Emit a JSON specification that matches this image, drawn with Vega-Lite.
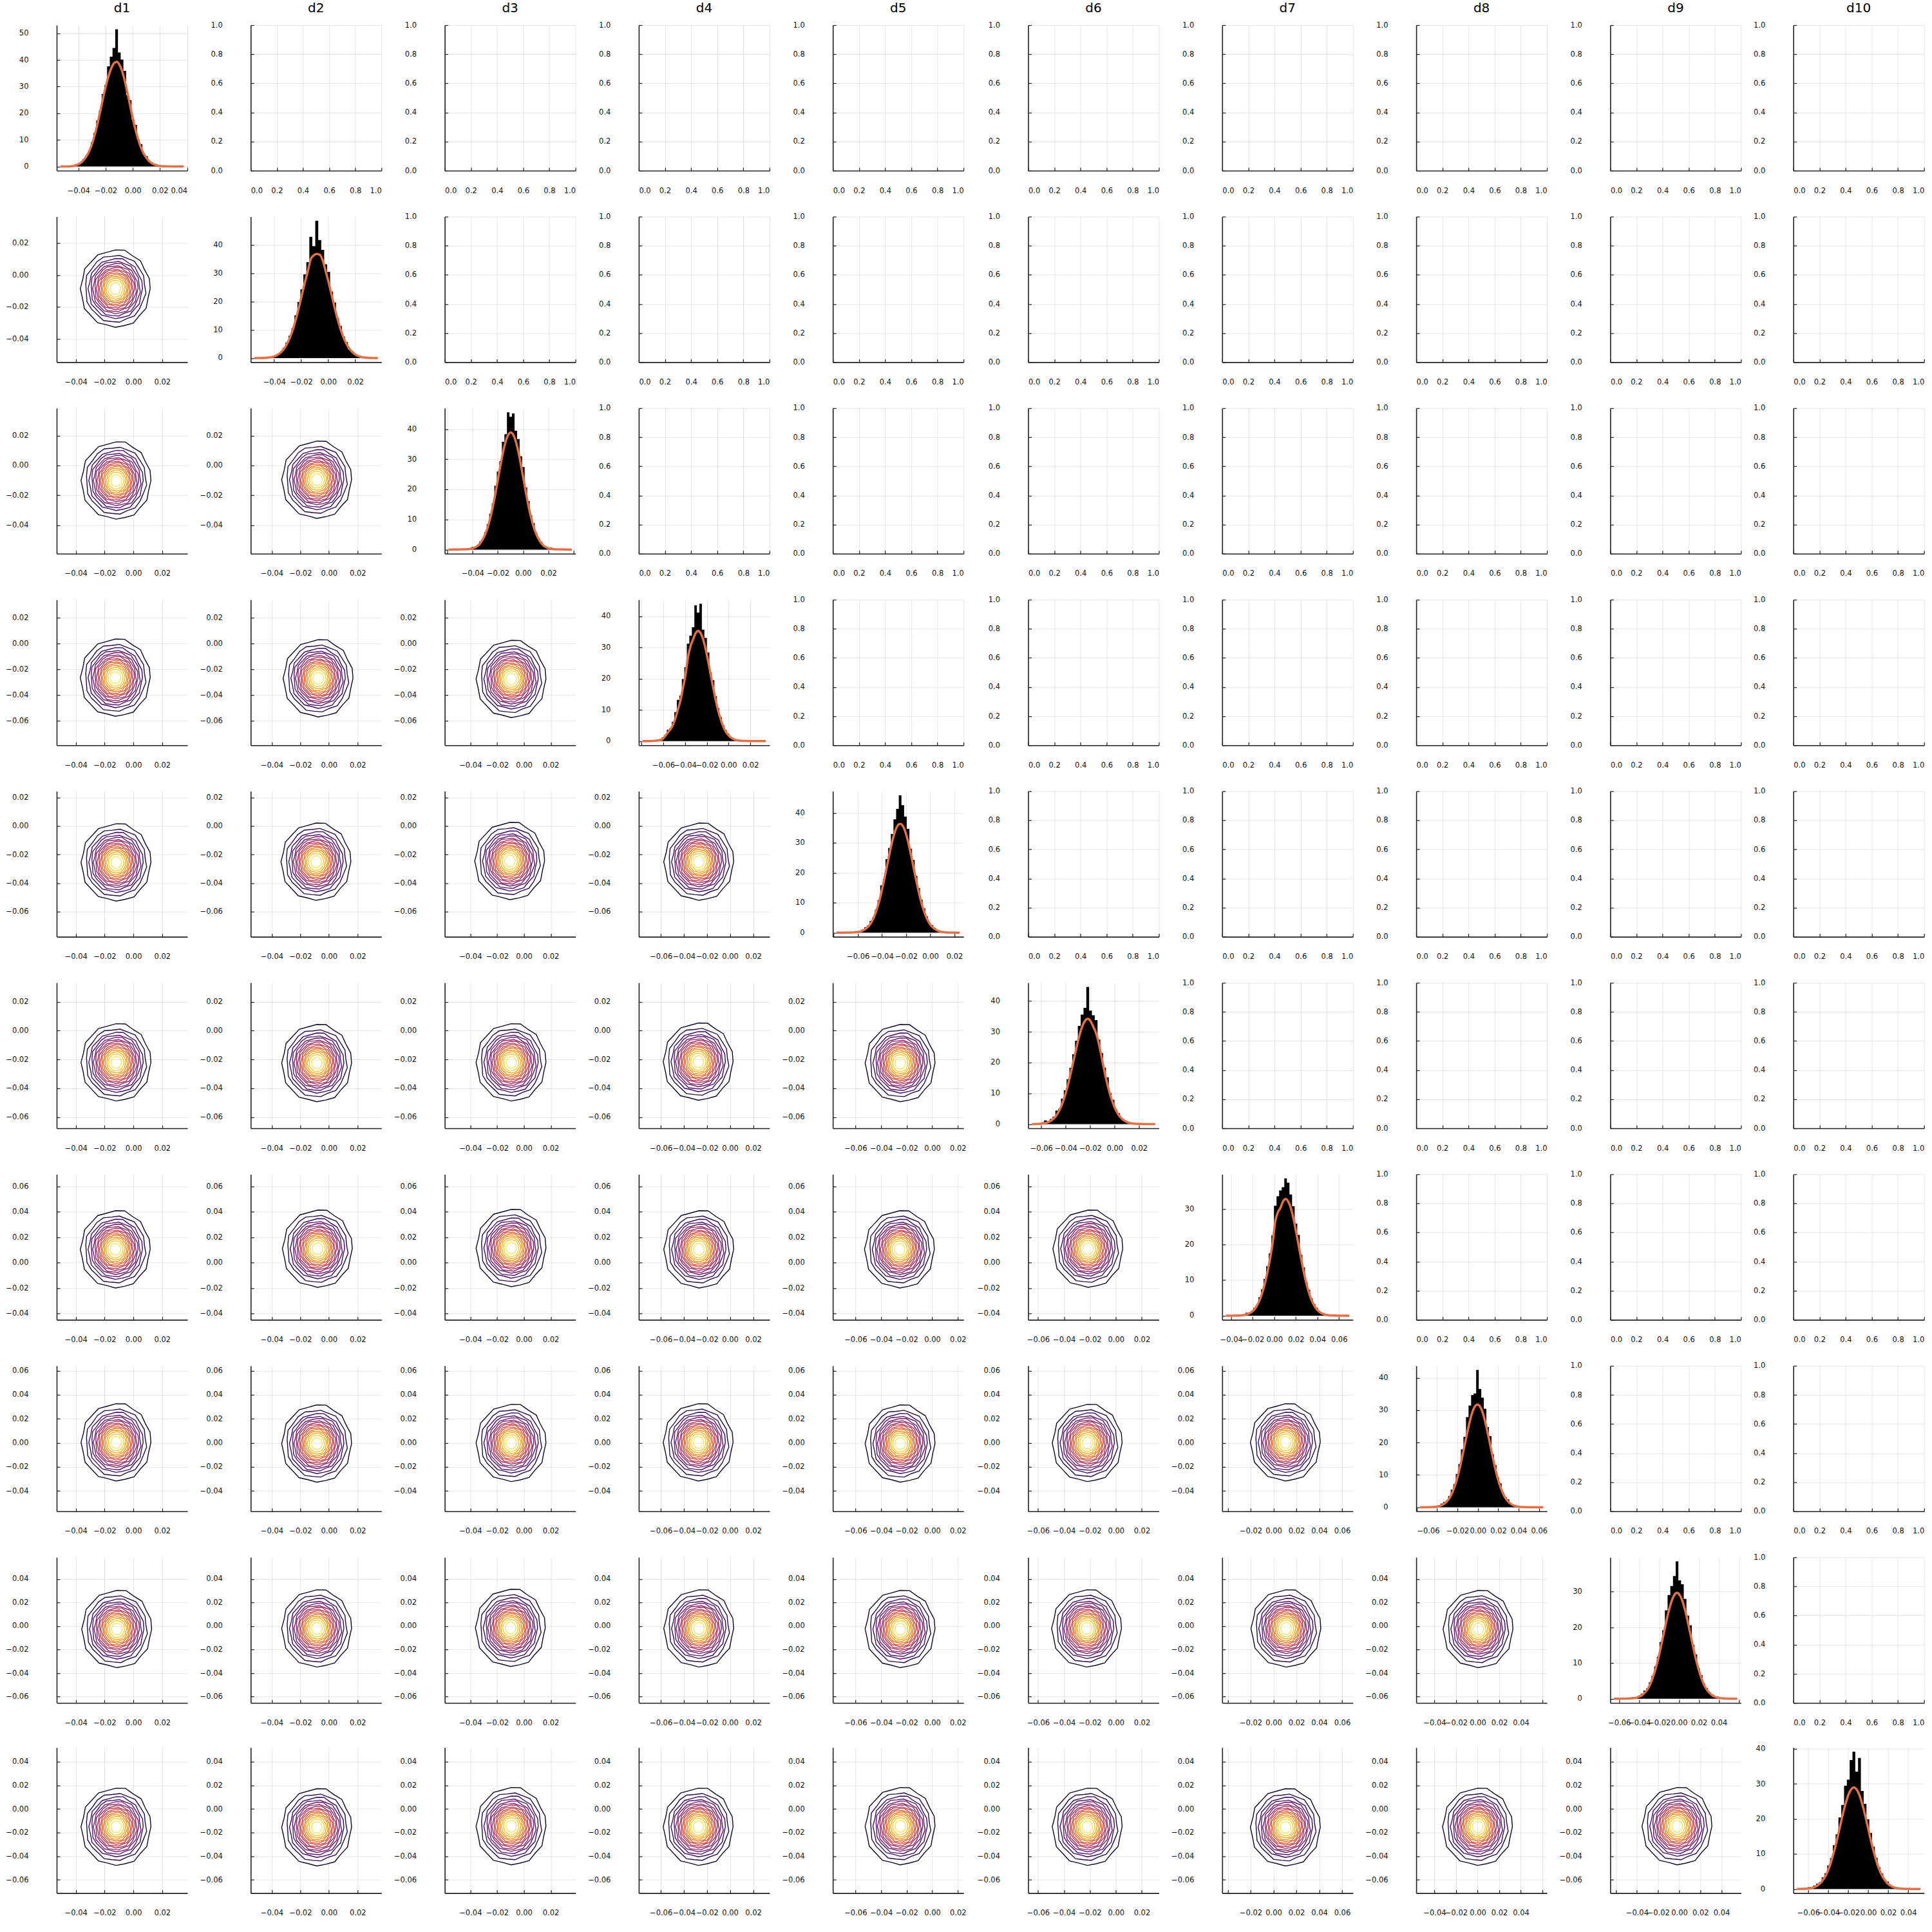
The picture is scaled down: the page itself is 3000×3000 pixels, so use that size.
{
"$schema":"https://vega.github.io/schema/vega-lite/v6.json",
"background":"white",
"padding":{"left":8,"top":3,"right":2,"bottom":2},
"data":{"values":[
{"r":1,"c":1,"x0":-0.056,"x1":0.0402,"y0":-1.55,"y1":53.05},
{"r":1,"c":2,"x0":0,"x1":1,"y0":0,"y1":1},{"r":1,"c":3,"x0":0,"x1":1,"y0":0,"y1":1},{"r":1,"c":4,"x0":0,"x1":1,"y0":0,"y1":1},{"r":1,"c":5,"x0":0,"x1":1,"y0":0,"y1":1},{"r":1,"c":6,"x0":0,"x1":1,"y0":0,"y1":1},{"r":1,"c":7,"x0":0,"x1":1,"y0":0,"y1":1},{"r":1,"c":8,"x0":0,"x1":1,"y0":0,"y1":1},{"r":1,"c":9,"x0":0,"x1":1,"y0":0,"y1":1},{"r":1,"c":10,"x0":0,"x1":1,"y0":0,"y1":1},
{"r":2,"c":1,"x0":-0.0533,"x1":0.0375,"y0":-0.0547,"y1":0.0367,"cx":-0.0125,"cy":-0.0085},
{"r":2,"c":2,"x0":-0.0574,"x1":0.0394,"y0":-1.46,"y1":49.96},
{"r":2,"c":3,"x0":0,"x1":1,"y0":0,"y1":1},{"r":2,"c":4,"x0":0,"x1":1,"y0":0,"y1":1},{"r":2,"c":5,"x0":0,"x1":1,"y0":0,"y1":1},{"r":2,"c":6,"x0":0,"x1":1,"y0":0,"y1":1},{"r":2,"c":7,"x0":0,"x1":1,"y0":0,"y1":1},{"r":2,"c":8,"x0":0,"x1":1,"y0":0,"y1":1},{"r":2,"c":9,"x0":0,"x1":1,"y0":0,"y1":1},{"r":2,"c":10,"x0":0,"x1":1,"y0":0,"y1":1},
{"r":3,"c":1,"x0":-0.0533,"x1":0.0375,"y0":-0.0591,"y1":0.0385,"cx":-0.012,"cy":-0.01},
{"r":3,"c":2,"x0":-0.0547,"x1":0.0367,"y0":-0.0591,"y1":0.0385,"cx":-0.0085,"cy":-0.0095},
{"r":3,"c":3,"x0":-0.062,"x1":0.0414,"y0":-1.37,"y1":46.97},
{"r":3,"c":4,"x0":0,"x1":1,"y0":0,"y1":1},{"r":3,"c":5,"x0":0,"x1":1,"y0":0,"y1":1},{"r":3,"c":6,"x0":0,"x1":1,"y0":0,"y1":1},{"r":3,"c":7,"x0":0,"x1":1,"y0":0,"y1":1},{"r":3,"c":8,"x0":0,"x1":1,"y0":0,"y1":1},{"r":3,"c":9,"x0":0,"x1":1,"y0":0,"y1":1},{"r":3,"c":10,"x0":0,"x1":1,"y0":0,"y1":1},
{"r":4,"c":1,"x0":-0.0533,"x1":0.0375,"y0":-0.0791,"y1":0.0342,"cx":-0.0125,"cy":-0.0265},
{"r":4,"c":2,"x0":-0.0547,"x1":0.0367,"y0":-0.0791,"y1":0.0342,"cx":-0.0075,"cy":-0.027},
{"r":4,"c":3,"x0":-0.0591,"x1":0.0385,"y0":-0.0791,"y1":0.0342,"cx":-0.0095,"cy":-0.0275},
{"r":4,"c":4,"x0":-0.0825,"x1":0.0376,"y0":-1.32,"y1":45.32},
{"r":4,"c":5,"x0":0,"x1":1,"y0":0,"y1":1},{"r":4,"c":6,"x0":0,"x1":1,"y0":0,"y1":1},{"r":4,"c":7,"x0":0,"x1":1,"y0":0,"y1":1},{"r":4,"c":8,"x0":0,"x1":1,"y0":0,"y1":1},{"r":4,"c":9,"x0":0,"x1":1,"y0":0,"y1":1},{"r":4,"c":10,"x0":0,"x1":1,"y0":0,"y1":1},
{"r":5,"c":1,"x0":-0.0533,"x1":0.0375,"y0":-0.0777,"y1":0.0245,"cx":-0.012,"cy":-0.0255},
{"r":5,"c":2,"x0":-0.0547,"x1":0.0367,"y0":-0.0777,"y1":0.0245,"cx":-0.009,"cy":-0.025},
{"r":5,"c":3,"x0":-0.0591,"x1":0.0385,"y0":-0.0777,"y1":0.0245,"cx":-0.0105,"cy":-0.0245},
{"r":5,"c":4,"x0":-0.0791,"x1":0.0342,"y0":-0.0777,"y1":0.0245,"cx":-0.027,"cy":-0.025},
{"r":5,"c":5,"x0":-0.0808,"x1":0.0276,"y0":-1.38,"y1":47.28},
{"r":5,"c":6,"x0":0,"x1":1,"y0":0,"y1":1},{"r":5,"c":7,"x0":0,"x1":1,"y0":0,"y1":1},{"r":5,"c":8,"x0":0,"x1":1,"y0":0,"y1":1},{"r":5,"c":9,"x0":0,"x1":1,"y0":0,"y1":1},{"r":5,"c":10,"x0":0,"x1":1,"y0":0,"y1":1},
{"r":6,"c":1,"x0":-0.0533,"x1":0.0375,"y0":-0.0677,"y1":0.0332,"cx":-0.012,"cy":-0.022},
{"r":6,"c":2,"x0":-0.0547,"x1":0.0367,"y0":-0.0677,"y1":0.0332,"cx":-0.0085,"cy":-0.0225},
{"r":6,"c":3,"x0":-0.0591,"x1":0.0385,"y0":-0.0677,"y1":0.0332,"cx":-0.0095,"cy":-0.022},
{"r":6,"c":4,"x0":-0.0791,"x1":0.0342,"y0":-0.0677,"y1":0.0332,"cx":-0.0275,"cy":-0.0215},
{"r":6,"c":5,"x0":-0.0777,"x1":0.0245,"y0":-0.0677,"y1":0.0332,"cx":-0.025,"cy":-0.0225},
{"r":6,"c":6,"x0":-0.0707,"x1":0.0362,"y0":-1.34,"y1":45.94},
{"r":6,"c":7,"x0":0,"x1":1,"y0":0,"y1":1},{"r":6,"c":8,"x0":0,"x1":1,"y0":0,"y1":1},{"r":6,"c":9,"x0":0,"x1":1,"y0":0,"y1":1},{"r":6,"c":10,"x0":0,"x1":1,"y0":0,"y1":1},
{"r":7,"c":1,"x0":-0.0533,"x1":0.0375,"y0":-0.0449,"y1":0.0695,"cx":-0.0125,"cy":0.0105},
{"r":7,"c":2,"x0":-0.0547,"x1":0.0367,"y0":-0.0449,"y1":0.0695,"cx":-0.008,"cy":0.011},
{"r":7,"c":3,"x0":-0.0591,"x1":0.0385,"y0":-0.0449,"y1":0.0695,"cx":-0.0095,"cy":0.0115},
{"r":7,"c":4,"x0":-0.0791,"x1":0.0342,"y0":-0.0449,"y1":0.0695,"cx":-0.027,"cy":0.0105},
{"r":7,"c":5,"x0":-0.0777,"x1":0.0245,"y0":-0.0449,"y1":0.0695,"cx":-0.0255,"cy":0.0105},
{"r":7,"c":6,"x0":-0.0677,"x1":0.0332,"y0":-0.0449,"y1":0.0695,"cx":-0.0215,"cy":0.011},
{"r":7,"c":7,"x0":-0.0483,"x1":0.0729,"y0":-1.16,"y1":39.76},
{"r":7,"c":8,"x0":0,"x1":1,"y0":0,"y1":1},{"r":7,"c":9,"x0":0,"x1":1,"y0":0,"y1":1},{"r":7,"c":10,"x0":0,"x1":1,"y0":0,"y1":1},
{"r":8,"c":1,"x0":-0.0533,"x1":0.0375,"y0":-0.0569,"y1":0.0642,"cx":-0.012,"cy":0.0005},
{"r":8,"c":2,"x0":-0.0547,"x1":0.0367,"y0":-0.0569,"y1":0.0642,"cx":-0.0085,"cy":-0.0005},
{"r":8,"c":3,"x0":-0.0591,"x1":0.0385,"y0":-0.0569,"y1":0.0642,"cx":-0.0095,"cy":0},
{"r":8,"c":4,"x0":-0.0791,"x1":0.0342,"y0":-0.0569,"y1":0.0642,"cx":-0.0275,"cy":0.0005},
{"r":8,"c":5,"x0":-0.0777,"x1":0.0245,"y0":-0.0569,"y1":0.0642,"cx":-0.025,"cy":-0.0005},
{"r":8,"c":6,"x0":-0.0677,"x1":0.0332,"y0":-0.0569,"y1":0.0642,"cx":-0.022,"cy":0},
{"r":8,"c":7,"x0":-0.0449,"x1":0.0695,"y0":-0.0569,"y1":0.0642,"cx":0.0105,"cy":0.0005},
{"r":8,"c":8,"x0":-0.0605,"x1":0.0678,"y0":-1.28,"y1":43.78},
{"r":8,"c":9,"x0":0,"x1":1,"y0":0,"y1":1},{"r":8,"c":10,"x0":0,"x1":1,"y0":0,"y1":1},
{"r":9,"c":1,"x0":-0.0533,"x1":0.0375,"y0":-0.0653,"y1":0.0585,"cx":-0.0115,"cy":-0.0025},
{"r":9,"c":2,"x0":-0.0547,"x1":0.0367,"y0":-0.0653,"y1":0.0585,"cx":-0.0085,"cy":-0.002},
{"r":9,"c":3,"x0":-0.0591,"x1":0.0385,"y0":-0.0653,"y1":0.0585,"cx":-0.01,"cy":-0.0015},
{"r":9,"c":4,"x0":-0.0791,"x1":0.0342,"y0":-0.0653,"y1":0.0585,"cx":-0.027,"cy":-0.002},
{"r":9,"c":5,"x0":-0.0777,"x1":0.0245,"y0":-0.0653,"y1":0.0585,"cx":-0.025,"cy":-0.0025},
{"r":9,"c":6,"x0":-0.0677,"x1":0.0332,"y0":-0.0653,"y1":0.0585,"cx":-0.0225,"cy":-0.002},
{"r":9,"c":7,"x0":-0.0449,"x1":0.0695,"y0":-0.0653,"y1":0.0585,"cx":0.011,"cy":-0.002},
{"r":9,"c":8,"x0":-0.0569,"x1":0.0642,"y0":-0.0653,"y1":0.0585,"cx":0.0005,"cy":-0.0025},
{"r":9,"c":9,"x0":-0.069,"x1":0.0622,"y0":-1.16,"y1":39.66},
{"r":9,"c":10,"x0":0,"x1":1,"y0":0,"y1":1},
{"r":10,"c":1,"x0":-0.0533,"x1":0.0375,"y0":-0.0712,"y1":0.0521,"cx":-0.012,"cy":-0.015},
{"r":10,"c":2,"x0":-0.0547,"x1":0.0367,"y0":-0.0712,"y1":0.0521,"cx":-0.0085,"cy":-0.0155},
{"r":10,"c":3,"x0":-0.0591,"x1":0.0385,"y0":-0.0712,"y1":0.0521,"cx":-0.0095,"cy":-0.0145},
{"r":10,"c":4,"x0":-0.0791,"x1":0.0342,"y0":-0.0712,"y1":0.0521,"cx":-0.0275,"cy":-0.015},
{"r":10,"c":5,"x0":-0.0777,"x1":0.0245,"y0":-0.0712,"y1":0.0521,"cx":-0.025,"cy":-0.0145},
{"r":10,"c":6,"x0":-0.0677,"x1":0.0332,"y0":-0.0712,"y1":0.0521,"cx":-0.022,"cy":-0.015},
{"r":10,"c":7,"x0":-0.0449,"x1":0.0695,"y0":-0.0712,"y1":0.0521,"cx":0.0105,"cy":-0.0155},
{"r":10,"c":8,"x0":-0.0569,"x1":0.0642,"y0":-0.0712,"y1":0.0521,"cx":0,"cy":-0.015},
{"r":10,"c":9,"x0":-0.0653,"x1":0.0585,"y0":-0.0712,"y1":0.0521,"cx":-0.002,"cy":-0.0145},
{"r":10,"c":10,"x0":-0.0749,"x1":0.0558,"y0":-1.18,"y1":40.38},

{"r":1,"c":1,"x":-0.0533,"d":0},
{"r":1,"c":1,"x":-0.0459,"h":0.3,"d":0.1},{"r":1,"c":1,"x":-0.0439,"h":0.2,"d":0.2},{"r":1,"c":1,"x":-0.0419,"h":0.6,"d":0.5},{"r":1,"c":1,"x":-0.0399,"h":1.1,"d":0.9},{"r":1,"c":1,"x":-0.0379,"h":1.6,"d":1.5},{"r":1,"c":1,"x":-0.0359,"h":2.8,"d":2.6},{"r":1,"c":1,"x":-0.0339,"h":4.2,"d":4.0},{"r":1,"c":1,"x":-0.0319,"h":5.9,"d":5.9},{"r":1,"c":1,"x":-0.0299,"h":9.1,"d":8.6},{"r":1,"c":1,"x":-0.0279,"h":12.6,"d":12.0},{"r":1,"c":1,"x":-0.0259,"h":17.3,"d":16.2},{"r":1,"c":1,"x":-0.0239,"h":21.0,"d":20.8},{"r":1,"c":1,"x":-0.0219,"h":27.2,"d":25.6},{"r":1,"c":1,"x":-0.0199,"h":30.5,"d":30.0},{"r":1,"c":1,"x":-0.0179,"h":37.6,"d":33.8},{"r":1,"c":1,"x":-0.0159,"h":41.2,"d":36.8},{"r":1,"c":1,"x":-0.0139,"h":44.5,"d":38.7},{"r":1,"c":1,"x":-0.0119,"h":51.5,"d":39.3},{"r":1,"c":1,"x":-0.0099,"h":42.8,"d":38.3},{"r":1,"c":1,"x":-0.0079,"h":40.1,"d":35.9},{"r":1,"c":1,"x":-0.0059,"h":35.9,"d":32.2},{"r":1,"c":1,"x":-0.0039,"h":26.8,"d":27.6},{"r":1,"c":1,"x":-0.0019,"h":24.9,"d":22.7},{"r":1,"c":1,"x":0.0001,"h":17.7,"d":17.9},{"r":1,"c":1,"x":0.0021,"h":15.6,"d":13.6},{"r":1,"c":1,"x":0.0041,"h":10.2,"d":10.0},{"r":1,"c":1,"x":0.0061,"h":8.4,"d":7.0},{"r":1,"c":1,"x":0.0081,"h":4.7,"d":4.8},{"r":1,"c":1,"x":0.0101,"h":3.9,"d":3.2},{"r":1,"c":1,"x":0.0121,"h":1.8,"d":2.0},{"r":1,"c":1,"x":0.0141,"h":1.5,"d":1.2},{"r":1,"c":1,"x":0.0161,"h":0.6,"d":0.7},{"r":1,"c":1,"x":0.0181,"h":0.5,"d":0.4},{"r":1,"c":1,"x":0.0201,"h":0.1,"d":0.2},{"r":1,"c":1,"x":0.0221,"h":0.2,"d":0.1},
{"r":1,"c":1,"x":0.0375,"d":0},

{"r":2,"c":2,"x":-0.0547,"d":0},
{"r":2,"c":2,"x":-0.0459,"h":0.2,"d":0.11},{"r":2,"c":2,"x":-0.0437,"h":0.4,"d":0.22},{"r":2,"c":2,"x":-0.0415,"h":0.3,"d":0.41},{"r":2,"c":2,"x":-0.0393,"h":0.9,"d":0.73},{"r":2,"c":2,"x":-0.0371,"h":1.4,"d":1.25},{"r":2,"c":2,"x":-0.0349,"h":2.0,"d":2.1},{"r":2,"c":2,"x":-0.0327,"h":3.6,"d":3.3},{"r":2,"c":2,"x":-0.0305,"h":5.5,"d":5.0},{"r":2,"c":2,"x":-0.0283,"h":7.9,"d":7.3},{"r":2,"c":2,"x":-0.0261,"h":10.6,"d":10.2},{"r":2,"c":2,"x":-0.0239,"h":15.1,"d":13.8},{"r":2,"c":2,"x":-0.0217,"h":19.8,"d":17.9},{"r":2,"c":2,"x":-0.0195,"h":24.3,"d":22.3},{"r":2,"c":2,"x":-0.0173,"h":29.6,"d":26.7},{"r":2,"c":2,"x":-0.0151,"h":33.9,"d":30.7},{"r":2,"c":2,"x":-0.0129,"h":42.8,"d":35.0},{"r":2,"c":2,"x":-0.0107,"h":39.5,"d":36.3},{"r":2,"c":2,"x":-0.0085,"h":48.5,"d":36.8},{"r":2,"c":2,"x":-0.0063,"h":41.7,"d":36.5},{"r":2,"c":2,"x":-0.0041,"h":38.2,"d":34.5},{"r":2,"c":2,"x":-0.0019,"h":33.1,"d":30.7},{"r":2,"c":2,"x":0.0003,"h":30.4,"d":26.7},{"r":2,"c":2,"x":0.0025,"h":23.5,"d":22.3},{"r":2,"c":2,"x":0.0047,"h":19.6,"d":17.9},{"r":2,"c":2,"x":0.0069,"h":14.1,"d":13.8},{"r":2,"c":2,"x":0.0091,"h":11.3,"d":10.2},{"r":2,"c":2,"x":0.0113,"h":7.6,"d":7.3},{"r":2,"c":2,"x":0.0135,"h":5.6,"d":5.0},{"r":2,"c":2,"x":0.0157,"h":3.1,"d":3.3},{"r":2,"c":2,"x":0.0179,"h":2.3,"d":2.1},{"r":2,"c":2,"x":0.0201,"h":1.4,"d":1.25},{"r":2,"c":2,"x":0.0223,"h":0.6,"d":0.73},{"r":2,"c":2,"x":0.0245,"h":0.5,"d":0.41},{"r":2,"c":2,"x":0.0267,"h":0.2,"d":0.22},{"r":2,"c":2,"x":0.0289,"h":0.1,"d":0.11},
{"r":2,"c":2,"x":0.0367,"d":0},

{"r":3,"c":3,"x":-0.0591,"d":0},
{"r":3,"c":3,"x":-0.0438,"h":0.4,"d":0.12},{"r":3,"c":3,"x":-0.0418,"h":0.2,"d":0.23},{"r":3,"c":3,"x":-0.0398,"h":0.9,"d":0.43},{"r":3,"c":3,"x":-0.0378,"h":0.5,"d":0.77},{"r":3,"c":3,"x":-0.0358,"h":1.5,"d":1.3},{"r":3,"c":3,"x":-0.0338,"h":2.7,"d":2.2},{"r":3,"c":3,"x":-0.0318,"h":3.4,"d":3.5},{"r":3,"c":3,"x":-0.0298,"h":5.8,"d":5.3},{"r":3,"c":3,"x":-0.0278,"h":8.4,"d":7.7},{"r":3,"c":3,"x":-0.0258,"h":11.9,"d":10.8},{"r":3,"c":3,"x":-0.0238,"h":15.3,"d":14.6},{"r":3,"c":3,"x":-0.0218,"h":21.2,"d":18.9},{"r":3,"c":3,"x":-0.0198,"h":25.9,"d":23.6},{"r":3,"c":3,"x":-0.0178,"h":29.4,"d":28.2},{"r":3,"c":3,"x":-0.0158,"h":35.8,"d":32.5},{"r":3,"c":3,"x":-0.0138,"h":38.3,"d":35.9},{"r":3,"c":3,"x":-0.0118,"h":45.6,"d":38.1},{"r":3,"c":3,"x":-0.0098,"h":44.1,"d":38.9},{"r":3,"c":3,"x":-0.0078,"h":45.2,"d":38.1},{"r":3,"c":3,"x":-0.0058,"h":39.5,"d":35.9},{"r":3,"c":3,"x":-0.0038,"h":36.7,"d":32.5},{"r":3,"c":3,"x":-0.0018,"h":31.0,"d":28.2},{"r":3,"c":3,"x":0.0002,"h":27.4,"d":23.6},{"r":3,"c":3,"x":0.0022,"h":20.6,"d":18.9},{"r":3,"c":3,"x":0.0042,"h":16.1,"d":14.6},{"r":3,"c":3,"x":0.0062,"h":11.4,"d":10.8},{"r":3,"c":3,"x":0.0082,"h":8.8,"d":7.7},{"r":3,"c":3,"x":0.0102,"h":5.6,"d":5.3},{"r":3,"c":3,"x":0.0122,"h":3.8,"d":3.5},{"r":3,"c":3,"x":0.0142,"h":2.6,"d":2.2},{"r":3,"c":3,"x":0.0162,"h":1.2,"d":1.3},{"r":3,"c":3,"x":0.0182,"h":1.0,"d":0.77},{"r":3,"c":3,"x":0.0202,"h":0.3,"d":0.43},{"r":3,"c":3,"x":0.0222,"h":0.6,"d":0.23},{"r":3,"c":3,"x":0.0242,"h":0.1,"d":0.12},
{"r":3,"c":3,"x":0.0385,"d":0},

{"r":4,"c":4,"x":-0.0791,"d":0},
{"r":4,"c":4,"x":-0.0671,"h":0.3,"d":0.11},{"r":4,"c":4,"x":-0.0648,"h":0.5,"d":0.21},{"r":4,"c":4,"x":-0.0625,"h":0.4,"d":0.39},{"r":4,"c":4,"x":-0.0602,"h":1.2,"d":0.8},{"r":4,"c":4,"x":-0.0579,"h":1.9,"d":1.8},{"r":4,"c":4,"x":-0.0556,"h":3.6,"d":2.8},{"r":4,"c":4,"x":-0.0533,"h":4.1,"d":3.8},{"r":4,"c":4,"x":-0.051,"h":6.2,"d":5.3},{"r":4,"c":4,"x":-0.0487,"h":9.3,"d":7.5},{"r":4,"c":4,"x":-0.0464,"h":13.2,"d":10.3},{"r":4,"c":4,"x":-0.0441,"h":14.6,"d":13.2},{"r":4,"c":4,"x":-0.0418,"h":19.9,"d":17.2},{"r":4,"c":4,"x":-0.0395,"h":23.7,"d":21.4},{"r":4,"c":4,"x":-0.0372,"h":31.2,"d":27.0},{"r":4,"c":4,"x":-0.0349,"h":33.8,"d":30.5},{"r":4,"c":4,"x":-0.0326,"h":36.5,"d":32.6},{"r":4,"c":4,"x":-0.0303,"h":43.5,"d":34.6},{"r":4,"c":4,"x":-0.028,"h":41.2,"d":35.3},{"r":4,"c":4,"x":-0.0257,"h":44.0,"d":34.6},{"r":4,"c":4,"x":-0.0234,"h":35.7,"d":32.6},{"r":4,"c":4,"x":-0.0211,"h":33.1,"d":29.5},{"r":4,"c":4,"x":-0.0188,"h":28.4,"d":25.6},{"r":4,"c":4,"x":-0.0165,"h":22.0,"d":21.4},{"r":4,"c":4,"x":-0.0142,"h":19.5,"d":17.2},{"r":4,"c":4,"x":-0.0119,"h":14.4,"d":13.2},{"r":4,"c":4,"x":-0.0096,"h":10.6,"d":9.8},{"r":4,"c":4,"x":-0.0073,"h":7.7,"d":7.0},{"r":4,"c":4,"x":-0.005,"h":5.1,"d":4.8},{"r":4,"c":4,"x":-0.0027,"h":3.5,"d":3.1},{"r":4,"c":4,"x":-0.0004,"h":2.4,"d":2.0},{"r":4,"c":4,"x":0.0019,"h":1.1,"d":1.2},{"r":4,"c":4,"x":0.0042,"h":0.9,"d":0.7},{"r":4,"c":4,"x":0.0065,"h":0.4,"d":0.39},{"r":4,"c":4,"x":0.0088,"h":0.5,"d":0.21},{"r":4,"c":4,"x":0.0111,"h":0.2,"d":0.11},
{"r":4,"c":4,"x":0.0342,"d":0},

{"r":5,"c":5,"x":-0.0777,"d":0},
{"r":5,"c":5,"x":-0.0624,"h":0.5,"d":0.11},{"r":5,"c":5,"x":-0.0602,"h":0.3,"d":0.22},{"r":5,"c":5,"x":-0.058,"h":0.7,"d":0.4},{"r":5,"c":5,"x":-0.0558,"h":1.0,"d":0.72},{"r":5,"c":5,"x":-0.0536,"h":1.8,"d":1.24},{"r":5,"c":5,"x":-0.0514,"h":2.4,"d":2.0},{"r":5,"c":5,"x":-0.0492,"h":3.9,"d":3.2},{"r":5,"c":5,"x":-0.047,"h":5.1,"d":4.9},{"r":5,"c":5,"x":-0.0448,"h":7.7,"d":7.2},{"r":5,"c":5,"x":-0.0426,"h":10.9,"d":10.1},{"r":5,"c":5,"x":-0.0404,"h":15.8,"d":13.7},{"r":5,"c":5,"x":-0.0382,"h":17.9,"d":17.7},{"r":5,"c":5,"x":-0.036,"h":24.6,"d":22.1},{"r":5,"c":5,"x":-0.0338,"h":28.3,"d":26.4},{"r":5,"c":5,"x":-0.0316,"h":33.0,"d":30.4},{"r":5,"c":5,"x":-0.0294,"h":37.9,"d":33.6},{"r":5,"c":5,"x":-0.0272,"h":41.4,"d":35.7},{"r":5,"c":5,"x":-0.025,"h":45.9,"d":36.4},{"r":5,"c":5,"x":-0.0228,"h":42.6,"d":35.7},{"r":5,"c":5,"x":-0.0206,"h":38.8,"d":33.6},{"r":5,"c":5,"x":-0.0184,"h":34.7,"d":30.4},{"r":5,"c":5,"x":-0.0162,"h":28.1,"d":26.4},{"r":5,"c":5,"x":-0.014,"h":24.3,"d":22.1},{"r":5,"c":5,"x":-0.0118,"h":19.0,"d":17.7},{"r":5,"c":5,"x":-0.0096,"h":14.9,"d":13.7},{"r":5,"c":5,"x":-0.0074,"h":11.0,"d":10.1},{"r":5,"c":5,"x":-0.0052,"h":8.1,"d":7.2},{"r":5,"c":5,"x":-0.003,"h":5.4,"d":4.9},{"r":5,"c":5,"x":-0.0008,"h":3.3,"d":3.2},{"r":5,"c":5,"x":0.0014,"h":2.5,"d":2.0},{"r":5,"c":5,"x":0.0036,"h":1.6,"d":1.24},{"r":5,"c":5,"x":0.0058,"h":0.8,"d":0.72},{"r":5,"c":5,"x":0.008,"h":0.6,"d":0.4},{"r":5,"c":5,"x":0.0102,"h":0.3,"d":0.22},{"r":5,"c":5,"x":0.0124,"h":0.2,"d":0.11},
{"r":5,"c":5,"x":0.0245,"d":0},

{"r":6,"c":6,"x":-0.0677,"d":0},
{"r":6,"c":6,"x":-0.0611,"h":0.2,"d":0.11},{"r":6,"c":6,"x":-0.0588,"h":0.6,"d":0.21},{"r":6,"c":6,"x":-0.0565,"h":1.2,"d":0.38},{"r":6,"c":6,"x":-0.0542,"h":0.9,"d":0.68},{"r":6,"c":6,"x":-0.0519,"h":1.7,"d":1.16},{"r":6,"c":6,"x":-0.0496,"h":2.4,"d":1.9},{"r":6,"c":6,"x":-0.0473,"h":4.4,"d":3.0},{"r":6,"c":6,"x":-0.045,"h":5.0,"d":4.6},{"r":6,"c":6,"x":-0.0427,"h":8.3,"d":6.8},{"r":6,"c":6,"x":-0.0404,"h":11.0,"d":9.5},{"r":6,"c":6,"x":-0.0381,"h":14.6,"d":12.8},{"r":6,"c":6,"x":-0.0358,"h":18.3,"d":16.7},{"r":6,"c":6,"x":-0.0335,"h":22.7,"d":20.7},{"r":6,"c":6,"x":-0.0312,"h":27.1,"d":24.8},{"r":6,"c":6,"x":-0.0289,"h":31.9,"d":28.6},{"r":6,"c":6,"x":-0.0266,"h":35.6,"d":31.6},{"r":6,"c":6,"x":-0.0243,"h":37.8,"d":33.5},{"r":6,"c":6,"x":-0.022,"h":44.6,"d":34.2},{"r":6,"c":6,"x":-0.0197,"h":36.9,"d":33.5},{"r":6,"c":6,"x":-0.0174,"h":35.4,"d":31.6},{"r":6,"c":6,"x":-0.0151,"h":33.8,"d":29.5},{"r":6,"c":6,"x":-0.0128,"h":27.5,"d":26.0},{"r":6,"c":6,"x":-0.0105,"h":23.1,"d":21.5},{"r":6,"c":6,"x":-0.0082,"h":18.4,"d":17.0},{"r":6,"c":6,"x":-0.0059,"h":15.2,"d":12.9},{"r":6,"c":6,"x":-0.0036,"h":10.1,"d":9.5},{"r":6,"c":6,"x":-0.0013,"h":7.9,"d":6.8},{"r":6,"c":6,"x":0.001,"h":4.8,"d":4.6},{"r":6,"c":6,"x":0.0033,"h":3.6,"d":3.0},{"r":6,"c":6,"x":0.0056,"h":2.0,"d":1.9},{"r":6,"c":6,"x":0.0079,"h":1.4,"d":1.16},{"r":6,"c":6,"x":0.0102,"h":0.6,"d":0.68},{"r":6,"c":6,"x":0.0125,"h":0.5,"d":0.38},{"r":6,"c":6,"x":0.0148,"h":0.3,"d":0.21},{"r":6,"c":6,"x":0.0171,"h":0.2,"d":0.11},
{"r":6,"c":6,"x":0.0332,"d":0},

{"r":7,"c":7,"x":-0.0449,"d":0},
{"r":7,"c":7,"x":-0.0303,"h":0.2,"d":0.1},{"r":7,"c":7,"x":-0.0279,"h":0.4,"d":0.2},{"r":7,"c":7,"x":-0.0255,"h":0.8,"d":0.36},{"r":7,"c":7,"x":-0.0231,"h":0.6,"d":0.65},{"r":7,"c":7,"x":-0.0207,"h":1.3,"d":1.1},{"r":7,"c":7,"x":-0.0183,"h":2.2,"d":1.8},{"r":7,"c":7,"x":-0.0159,"h":3.0,"d":2.9},{"r":7,"c":7,"x":-0.0135,"h":5.2,"d":4.4},{"r":7,"c":7,"x":-0.0111,"h":7.4,"d":6.5},{"r":7,"c":7,"x":-0.0087,"h":10.3,"d":9.1},{"r":7,"c":7,"x":-0.0063,"h":13.9,"d":12.3},{"r":7,"c":7,"x":-0.0039,"h":17.5,"d":16.0},{"r":7,"c":7,"x":-0.0015,"h":22.6,"d":20.5},{"r":7,"c":7,"x":0.0009,"h":30.9,"d":26.5},{"r":7,"c":7,"x":0.0033,"h":33.6,"d":29.0},{"r":7,"c":7,"x":0.0057,"h":35.2,"d":30.3},{"r":7,"c":7,"x":0.0081,"h":36.1,"d":32.1},{"r":7,"c":7,"x":0.0105,"h":38.6,"d":32.8},{"r":7,"c":7,"x":0.0129,"h":37.4,"d":32.1},{"r":7,"c":7,"x":0.0153,"h":34.1,"d":30.3},{"r":7,"c":7,"x":0.0177,"h":30.8,"d":27.4},{"r":7,"c":7,"x":0.0201,"h":25.9,"d":23.8},{"r":7,"c":7,"x":0.0225,"h":22.7,"d":19.9},{"r":7,"c":7,"x":0.0249,"h":17.1,"d":16.0},{"r":7,"c":7,"x":0.0273,"h":13.6,"d":12.3},{"r":7,"c":7,"x":0.0297,"h":9.4,"d":9.1},{"r":7,"c":7,"x":0.0321,"h":7.3,"d":6.5},{"r":7,"c":7,"x":0.0345,"h":4.9,"d":4.4},{"r":7,"c":7,"x":0.0369,"h":3.3,"d":2.9},{"r":7,"c":7,"x":0.0393,"h":2.2,"d":1.8},{"r":7,"c":7,"x":0.0417,"h":1.0,"d":1.1},{"r":7,"c":7,"x":0.0441,"h":0.8,"d":0.65},{"r":7,"c":7,"x":0.0465,"h":0.3,"d":0.36},{"r":7,"c":7,"x":0.0489,"h":0.4,"d":0.2},{"r":7,"c":7,"x":0.0513,"h":0.1,"d":0.1},
{"r":7,"c":7,"x":0.0695,"d":0},

{"r":8,"c":8,"x":-0.0569,"d":0},
{"r":8,"c":8,"x":-0.0429,"h":0.3,"d":0.1},{"r":8,"c":8,"x":-0.0404,"h":0.2,"d":0.19},{"r":8,"c":8,"x":-0.0379,"h":0.6,"d":0.35},{"r":8,"c":8,"x":-0.0354,"h":1.1,"d":0.63},{"r":8,"c":8,"x":-0.0329,"h":1.6,"d":1.08},{"r":8,"c":8,"x":-0.0304,"h":2.0,"d":1.8},{"r":8,"c":8,"x":-0.0279,"h":3.4,"d":2.8},{"r":8,"c":8,"x":-0.0254,"h":5.4,"d":4.3},{"r":8,"c":8,"x":-0.0229,"h":7.1,"d":6.3},{"r":8,"c":8,"x":-0.0204,"h":10.3,"d":8.8},{"r":8,"c":8,"x":-0.0179,"h":13.4,"d":11.9},{"r":8,"c":8,"x":-0.0154,"h":17.9,"d":15.5},{"r":8,"c":8,"x":-0.0129,"h":21.8,"d":19.3},{"r":8,"c":8,"x":-0.0104,"h":27.9,"d":23.1},{"r":8,"c":8,"x":-0.0079,"h":31.5,"d":26.6},{"r":8,"c":8,"x":-0.0054,"h":34.7,"d":29.4},{"r":8,"c":8,"x":-0.0029,"h":35.2,"d":31.2},{"r":8,"c":8,"x":-0.0004,"h":42.5,"d":31.8},{"r":8,"c":8,"x":0.0021,"h":36.6,"d":31.2},{"r":8,"c":8,"x":0.0046,"h":33.9,"d":29.4},{"r":8,"c":8,"x":0.0071,"h":30.5,"d":26.6},{"r":8,"c":8,"x":0.0096,"h":24.8,"d":23.1},{"r":8,"c":8,"x":0.0121,"h":22.0,"d":19.3},{"r":8,"c":8,"x":0.0146,"h":16.4,"d":15.5},{"r":8,"c":8,"x":0.0171,"h":13.1,"d":11.9},{"r":8,"c":8,"x":0.0196,"h":9.2,"d":8.8},{"r":8,"c":8,"x":0.0221,"h":7.4,"d":6.3},{"r":8,"c":8,"x":0.0246,"h":4.5,"d":4.3},{"r":8,"c":8,"x":0.0271,"h":3.1,"d":2.8},{"r":8,"c":8,"x":0.0296,"h":2.4,"d":1.8},{"r":8,"c":8,"x":0.0321,"h":1.0,"d":1.08},{"r":8,"c":8,"x":0.0346,"h":0.8,"d":0.63},{"r":8,"c":8,"x":0.0371,"h":0.4,"d":0.35},{"r":8,"c":8,"x":0.0396,"h":0.2,"d":0.19},{"r":8,"c":8,"x":0.0421,"h":0.3,"d":0.1},
{"r":8,"c":8,"x":0.0642,"d":0},

{"r":9,"c":9,"x":-0.0653,"d":0},
{"r":9,"c":9,"x":-0.0479,"h":0.4,"d":0.09},{"r":9,"c":9,"x":-0.0452,"h":0.2,"d":0.18},{"r":9,"c":9,"x":-0.0425,"h":0.5,"d":0.33},{"r":9,"c":9,"x":-0.0398,"h":0.9,"d":0.59},{"r":9,"c":9,"x":-0.0371,"h":1.4,"d":1.0},{"r":9,"c":9,"x":-0.0344,"h":2.3,"d":1.7},{"r":9,"c":9,"x":-0.0317,"h":2.9,"d":2.6},{"r":9,"c":9,"x":-0.029,"h":4.6,"d":4.0},{"r":9,"c":9,"x":-0.0263,"h":6.4,"d":5.9},{"r":9,"c":9,"x":-0.0236,"h":9.1,"d":8.3},{"r":9,"c":9,"x":-0.0209,"h":11.8,"d":11.1},{"r":9,"c":9,"x":-0.0182,"h":15.9,"d":14.5},{"r":9,"c":9,"x":-0.0155,"h":19.2,"d":18.0},{"r":9,"c":9,"x":-0.0128,"h":24.8,"d":21.6},{"r":9,"c":9,"x":-0.0101,"h":29.1,"d":24.8},{"r":9,"c":9,"x":-0.0074,"h":31.6,"d":27.4},{"r":9,"c":9,"x":-0.0047,"h":34.4,"d":29.1},{"r":9,"c":9,"x":-0.002,"h":38.5,"d":29.7},{"r":9,"c":9,"x":0.0007,"h":33.2,"d":29.1},{"r":9,"c":9,"x":0.0034,"h":32.1,"d":27.4},{"r":9,"c":9,"x":0.0061,"h":28.0,"d":24.8},{"r":9,"c":9,"x":0.0088,"h":23.3,"d":21.6},{"r":9,"c":9,"x":0.0115,"h":20.6,"d":18.0},{"r":9,"c":9,"x":0.0142,"h":15.1,"d":14.5},{"r":9,"c":9,"x":0.0169,"h":12.4,"d":11.1},{"r":9,"c":9,"x":0.0196,"h":8.6,"d":8.3},{"r":9,"c":9,"x":0.0223,"h":6.6,"d":5.9},{"r":9,"c":9,"x":0.025,"h":4.2,"d":4.0},{"r":9,"c":9,"x":0.0277,"h":3.0,"d":2.6},{"r":9,"c":9,"x":0.0304,"h":1.8,"d":1.7},{"r":9,"c":9,"x":0.0331,"h":1.2,"d":1.0},{"r":9,"c":9,"x":0.0358,"h":0.5,"d":0.59},{"r":9,"c":9,"x":0.0385,"h":0.6,"d":0.33},{"r":9,"c":9,"x":0.0412,"h":0.2,"d":0.18},{"r":9,"c":9,"x":0.0439,"h":0.1,"d":0.09},
{"r":9,"c":9,"x":0.0585,"d":0},

{"r":10,"c":10,"x":-0.0712,"d":0},
{"r":10,"c":10,"x":-0.062,"h":0.3,"d":0.09},{"r":10,"c":10,"x":-0.0592,"h":0.5,"d":0.17},{"r":10,"c":10,"x":-0.0564,"h":0.6,"d":0.32},{"r":10,"c":10,"x":-0.0536,"h":1.0,"d":0.57},{"r":10,"c":10,"x":-0.0508,"h":1.5,"d":1.0},{"r":10,"c":10,"x":-0.048,"h":1.9,"d":1.6},{"r":10,"c":10,"x":-0.0452,"h":3.3,"d":2.6},{"r":10,"c":10,"x":-0.0424,"h":4.5,"d":3.9},{"r":10,"c":10,"x":-0.0396,"h":6.7,"d":5.7},{"r":10,"c":10,"x":-0.0368,"h":8.8,"d":8.1},{"r":10,"c":10,"x":-0.034,"h":12.5,"d":10.9},{"r":10,"c":10,"x":-0.0312,"h":15.6,"d":14.1},{"r":10,"c":10,"x":-0.0284,"h":20.4,"d":17.6},{"r":10,"c":10,"x":-0.0256,"h":24.0,"d":21.1},{"r":10,"c":10,"x":-0.0228,"h":29.5,"d":24.2},{"r":10,"c":10,"x":-0.02,"h":31.2,"d":26.8},{"r":10,"c":10,"x":-0.0172,"h":36.8,"d":28.4},{"r":10,"c":10,"x":-0.0144,"h":39.2,"d":29.0},{"r":10,"c":10,"x":-0.0116,"h":33.5,"d":28.4},{"r":10,"c":10,"x":-0.0088,"h":37.4,"d":26.8},{"r":10,"c":10,"x":-0.006,"h":28.0,"d":24.2},{"r":10,"c":10,"x":-0.0032,"h":24.3,"d":21.1},{"r":10,"c":10,"x":-0.0004,"h":19.9,"d":17.6},{"r":10,"c":10,"x":0.0024,"h":16.0,"d":14.1},{"r":10,"c":10,"x":0.0052,"h":12.1,"d":10.9},{"r":10,"c":10,"x":0.008,"h":8.9,"d":8.1},{"r":10,"c":10,"x":0.0108,"h":6.2,"d":5.7},{"r":10,"c":10,"x":0.0136,"h":4.4,"d":3.9},{"r":10,"c":10,"x":0.0164,"h":2.7,"d":2.6},{"r":10,"c":10,"x":0.0192,"h":2.1,"d":1.6},{"r":10,"c":10,"x":0.022,"h":0.9,"d":1.0},{"r":10,"c":10,"x":0.0248,"h":0.7,"d":0.57},{"r":10,"c":10,"x":0.0276,"h":0.4,"d":0.32},{"r":10,"c":10,"x":0.0304,"h":0.3,"d":0.17},{"r":10,"c":10,"x":0.0332,"h":0.2,"d":0.09},
{"r":10,"c":10,"x":0.0521,"d":0}
]},
"facet":{
 "row":{"field":"r","type":"ordinal","header":{"labels":false,"title":null}},
 "column":{"field":"c","type":"ordinal","header":{"title":null,"labelExpr":"'d' + datum.value","labelFontSize":20,"labelPadding":10}}
},
"spacing":{"row":28.4,"column":16.3},
"bounds":"full",
"align":"each",
"resolve":{"scale":{"x":"independent","y":"independent"}},
"spec":{
 "width":203,"height":226,
 "layer":[
  {"transform":[{"filter":"isValid(datum.x0)"}],
   "mark":{"type":"rect","opacity":0},
   "encoding":{
    "x":{"field":"x0","type":"quantitative","title":null,"scale":{"nice":false,"zero":false}},
    "x2":{"field":"x1"},
    "y":{"field":"y0","type":"quantitative","title":null,"scale":{"nice":false,"zero":false}},
    "y2":{"field":"y1"}}},
  {"transform":[{"filter":"isValid(datum.h)"}],
   "mark":{"type":"area","interpolate":"step","color":"#000000"},
   "encoding":{
    "x":{"field":"x","type":"quantitative","title":null,"scale":{"nice":false,"zero":false}},
    "y":{"field":"h","type":"quantitative","title":null,"scale":{"nice":false,"zero":false}},
    "y2":{"datum":0}}},
  {"transform":[{"filter":"isValid(datum.d)"}],
   "mark":{"type":"line","color":"#e26f46","strokeWidth":3.5,"interpolate":"monotone"},
   "encoding":{
    "x":{"field":"x","type":"quantitative","title":null,"scale":{"nice":false,"zero":false}},
    "y":{"field":"d","type":"quantitative","title":null,"scale":{"nice":false,"zero":false}}}},
  {"transform":[{"filter":"isValid(datum.cx)"}],
   "encoding":{
    "x":{"field":"cx","type":"quantitative","title":null,"scale":{"nice":false,"zero":false}},
    "y":{"field":"cy","type":"quantitative","title":null,"scale":{"nice":false,"zero":false}}},
   "layer":[
    {"mark":{"type":"point","size":14400,"stroke":"#0e0725"}},
    {"mark":{"type":"point","size":10860,"stroke":"#210b45","shape":"M0.91,0.134L0.815,0.375L0.714,0.609L0.565,0.817L0.334,0.896L0.119,1L-0.117,0.981L-0.355,0.952L-0.537,0.777L-0.714,0.609L-0.848,0.391L-0.865,0.127L-0.883,-0.13L-0.857,-0.394L-0.699,-0.597L-0.554,-0.801L-0.352,-0.942L-0.114,-0.961L0.118,-0.991L0.338,-0.906L0.565,-0.817L0.707,-0.603L0.84,-0.387L0.865,-0.127Z"}},
    {"mark":{"type":"point","size":8720,"stroke":"#3d0a62"}},
    {"mark":{"type":"point","size":7225,"stroke":"#56106b","shape":"M0.91,0.134L0.815,0.375L0.714,0.609L0.565,0.817L0.334,0.896L0.119,1L-0.117,0.981L-0.355,0.952L-0.537,0.777L-0.714,0.609L-0.848,0.391L-0.865,0.127L-0.883,-0.13L-0.857,-0.394L-0.699,-0.597L-0.554,-0.801L-0.352,-0.942L-0.114,-0.961L0.118,-0.991L0.338,-0.906L0.565,-0.817L0.707,-0.603L0.84,-0.387L0.865,-0.127Z"}},
    {"mark":{"type":"point","size":6070,"stroke":"#6f196d"}},
    {"mark":{"type":"point","size":5110,"stroke":"#892269","shape":"M0.91,0.134L0.815,0.375L0.714,0.609L0.565,0.817L0.334,0.896L0.119,1L-0.117,0.981L-0.355,0.952L-0.537,0.777L-0.714,0.609L-0.848,0.391L-0.865,0.127L-0.883,-0.13L-0.857,-0.394L-0.699,-0.597L-0.554,-0.801L-0.352,-0.942L-0.114,-0.961L0.118,-0.991L0.338,-0.906L0.565,-0.817L0.707,-0.603L0.84,-0.387L0.865,-0.127Z"}},
    {"mark":{"type":"point","size":4315,"stroke":"#a22c60"}},
    {"mark":{"type":"point","size":3610,"stroke":"#bc3754","shape":"M0.91,0.134L0.815,0.375L0.714,0.609L0.565,0.817L0.334,0.896L0.119,1L-0.117,0.981L-0.355,0.952L-0.537,0.777L-0.714,0.609L-0.848,0.391L-0.865,0.127L-0.883,-0.13L-0.857,-0.394L-0.699,-0.597L-0.554,-0.801L-0.352,-0.942L-0.114,-0.961L0.118,-0.991L0.338,-0.906L0.565,-0.817L0.707,-0.603L0.84,-0.387L0.865,-0.127Z"}},
    {"mark":{"type":"point","size":3005,"stroke":"#d14744"}},
    {"mark":{"type":"point","size":2450,"stroke":"#e25b32","shape":"M0.91,0.134L0.815,0.375L0.714,0.609L0.565,0.817L0.334,0.896L0.119,1L-0.117,0.981L-0.355,0.952L-0.537,0.777L-0.714,0.609L-0.848,0.391L-0.865,0.127L-0.883,-0.13L-0.857,-0.394L-0.699,-0.597L-0.554,-0.801L-0.352,-0.942L-0.114,-0.961L0.118,-0.991L0.338,-0.906L0.565,-0.817L0.707,-0.603L0.84,-0.387L0.865,-0.127Z"}},
    {"mark":{"type":"point","size":1955,"stroke":"#f0731d"}},
    {"mark":{"type":"point","size":1500,"stroke":"#f88f12","shape":"M0.91,0.134L0.815,0.375L0.714,0.609L0.565,0.817L0.334,0.896L0.119,1L-0.117,0.981L-0.355,0.952L-0.537,0.777L-0.714,0.609L-0.848,0.391L-0.865,0.127L-0.883,-0.13L-0.857,-0.394L-0.699,-0.597L-0.554,-0.801L-0.352,-0.942L-0.114,-0.961L0.118,-0.991L0.338,-0.906L0.565,-0.817L0.707,-0.603L0.84,-0.387L0.865,-0.127Z"}},
    {"mark":{"type":"point","size":1080,"stroke":"#fbab12"}},
    {"mark":{"type":"point","size":700,"stroke":"#f8cb37","shape":"M0.91,0.134L0.815,0.375L0.714,0.609L0.565,0.817L0.334,0.896L0.119,1L-0.117,0.981L-0.355,0.952L-0.537,0.777L-0.714,0.609L-0.848,0.391L-0.865,0.127L-0.883,-0.13L-0.857,-0.394L-0.699,-0.597L-0.554,-0.801L-0.352,-0.942L-0.114,-0.961L0.118,-0.991L0.338,-0.906L0.565,-0.817L0.707,-0.603L0.84,-0.387L0.865,-0.127Z"}},
    {"mark":{"type":"point","size":335,"stroke":"#f8e65c"}}
   ]}
 ]
},
"config":{
 "font":"DejaVu Sans",
 "view":{"stroke":null},
 "axis":{"grid":true,"gridColor":"#000000","gridOpacity":0.1,"gridWidth":1,"domainColor":"#222222","domainWidth":1.6,"tickColor":"#222222","tickWidth":1.2,"tickSize":-5,"tickCount":5,"labelFontSize":11.5,"labelColor":"#111111","labelOverlap":false,"labelFont":"DejaVu Sans"},
 "axisX":{"labelPadding":30,"labelFlush":true,"labelBound":5,"labelOverlap":"greedy","labelSeparation":-6},
 "axisY":{"labelPadding":49},
 "header":{"labelFont":"DejaVu Sans","labelColor":"#000000"},
 "point":{"shape":"M0.9,0L0.843,0.251L0.795,0.51L0.624,0.693L0.464,0.892L0.231,0.956L0,1L-0.226,0.937L-0.459,0.883L-0.63,0.7L-0.803,0.515L-0.852,0.254L-0.909,0L-0.843,-0.251L-0.795,-0.51L-0.624,-0.693L-0.455,-0.875L-0.226,-0.937L0,-1L0.24,-0.995L0.441,-0.849L0.649,-0.721L0.756,-0.485L0.878,-0.262Z","filled":false,"strokeWidth":1.4,"opacity":1}
}
}
